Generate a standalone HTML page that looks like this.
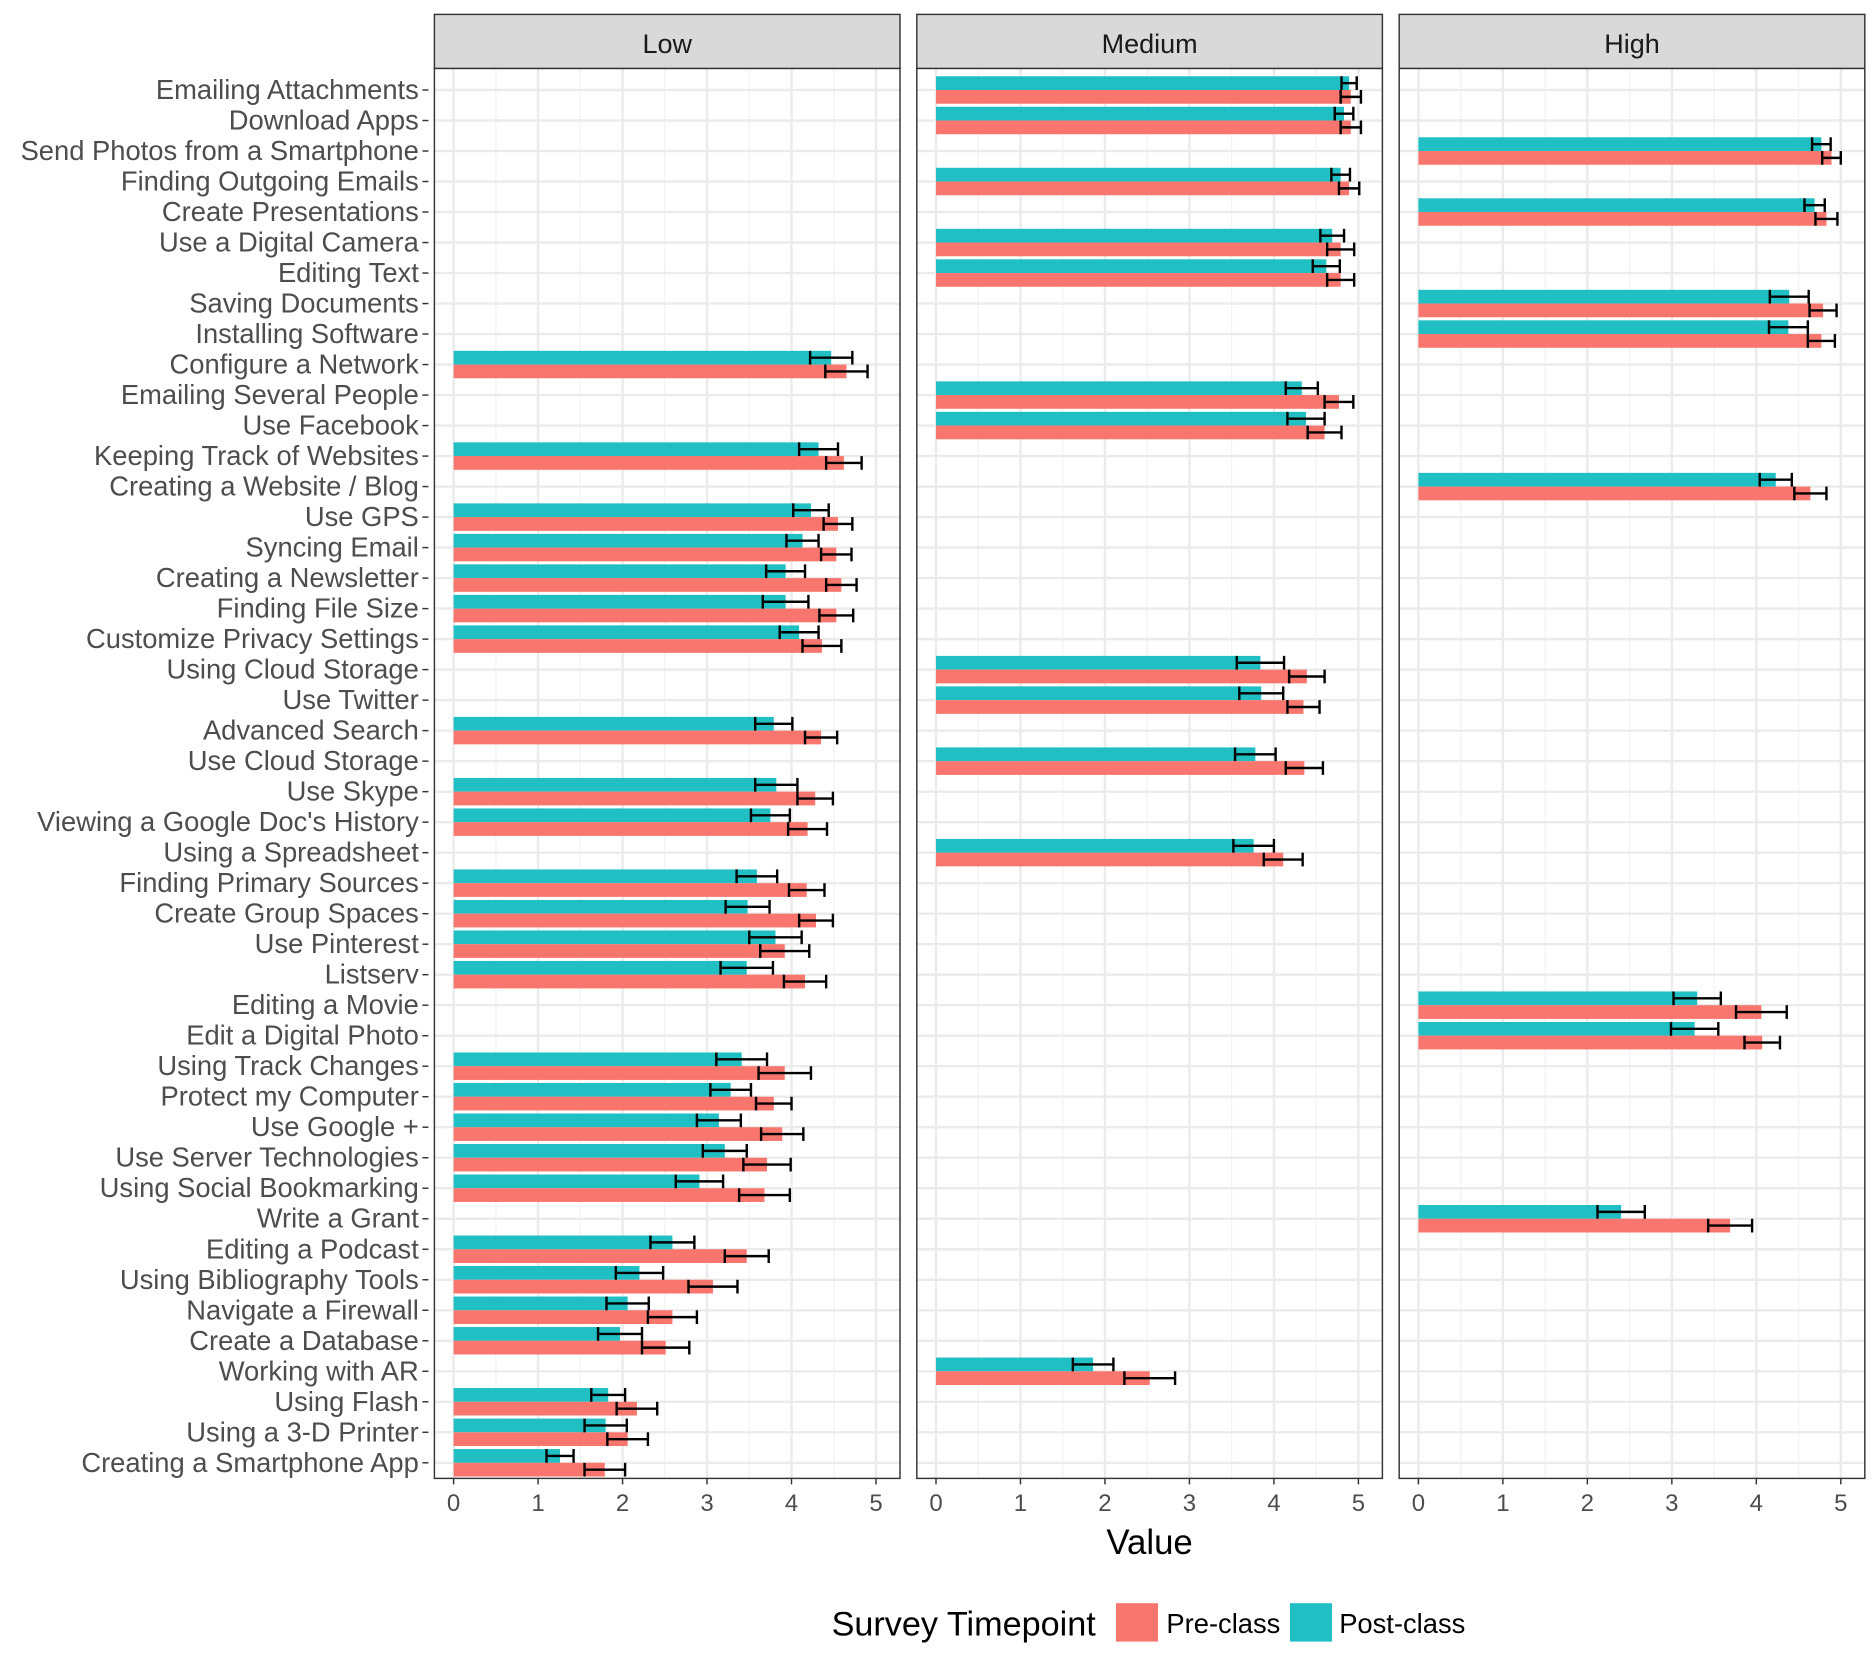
<!DOCTYPE html>
<html><head><meta charset="utf-8"><style>
html,body{margin:0;padding:0;background:#fff;}
svg{display:block;font-family:"Liberation Sans",Arial,sans-serif;}
</style></head><body>
<svg id="chart" width="1876" height="1670" viewBox="0 0 1563.33 1391.67" xmlns="http://www.w3.org/2000/svg"></svg>
<script>
const categories = ["Emailing Attachments","Download Apps","Send Photos from a Smartphone","Finding Outgoing Emails","Create Presentations","Use a Digital Camera","Editing Text","Saving Documents","Installing Software","Configure a Network","Emailing Several People","Use Facebook","Keeping Track of Websites","Creating a Website / Blog","Use GPS","Syncing Email","Creating a Newsletter","Finding File Size","Customize Privacy Settings","Using Cloud Storage","Use Twitter","Advanced Search","Use Cloud Storage","Use Skype","Viewing a Google Doc's History","Using a Spreadsheet","Finding Primary Sources","Create Group Spaces","Use Pinterest","Listserv","Editing a Movie","Edit a Digital Photo","Using Track Changes","Protect my Computer","Use Google +","Use Server Technologies","Using Social Bookmarking","Write a Grant","Editing a Podcast","Using Bibliography Tools","Navigate a Firewall","Create a Database","Working with AR","Using Flash","Using a 3-D Printer","Creating a Smartphone App"];
const panelOf = ["Medium","Medium","High","Medium","High","Medium","Medium","High","High","Low","Medium","Medium","Low","High","Low","Low","Low","Low","Low","Medium","Medium","Low","Medium","Low","Low","Medium","Low","Low","Low","Low","High","High","Low","Low","Low","Low","Low","High","Low","Low","Low","Low","Medium","Low","Low","Low"];
const preValues = [4.91,4.91,4.89,4.89,4.83,4.79,4.79,4.79,4.77,4.65,4.77,4.6,4.62,4.64,4.55,4.53,4.59,4.53,4.36,4.39,4.35,4.35,4.36,4.28,4.19,4.11,4.18,4.29,3.92,4.16,4.06,4.07,3.92,3.79,3.89,3.71,3.68,3.69,3.47,3.07,2.59,2.51,2.53,2.17,2.06,1.79];
const preErr = [0.12,0.12,0.11,0.12,0.13,0.16,0.16,0.16,0.16,0.25,0.17,0.2,0.21,0.19,0.17,0.18,0.18,0.2,0.23,0.21,0.19,0.19,0.22,0.21,0.23,0.23,0.21,0.2,0.29,0.25,0.3,0.21,0.31,0.21,0.25,0.28,0.3,0.26,0.26,0.29,0.29,0.28,0.3,0.24,0.24,0.24];
const postValues = [4.89,4.83,4.77,4.79,4.69,4.69,4.62,4.39,4.38,4.47,4.33,4.38,4.32,4.23,4.23,4.13,3.93,3.93,4.09,3.84,3.85,3.79,3.78,3.82,3.75,3.76,3.59,3.48,3.81,3.47,3.3,3.27,3.41,3.28,3.14,3.21,2.91,2.4,2.59,2.2,2.06,1.97,1.86,1.83,1.8,1.26];
const postErr = [0.09,0.11,0.11,0.11,0.12,0.14,0.16,0.23,0.23,0.25,0.19,0.22,0.23,0.19,0.21,0.19,0.23,0.27,0.23,0.28,0.26,0.22,0.24,0.25,0.23,0.24,0.24,0.26,0.31,0.31,0.28,0.28,0.3,0.24,0.26,0.26,0.28,0.28,0.26,0.28,0.25,0.26,0.24,0.2,0.25,0.16];
const xTicks = ["0","1","2","3","4","5"];
const panels = ["Low","Medium","High"];

const NS = "http://www.w3.org/2000/svg";
const svg = document.getElementById("chart");
function mk(tag, attrs, parent){const e=document.createElementNS(NS,tag);for(const k in attrs)e.setAttribute(k,attrs[k]);(parent||svg).appendChild(e);return e;}
const RED="#F8766D", TEAL="#1FBFC4";
const panelLeft=[362,764,1166], panelW=388, stripTop=12, plotTop=57, plotBot=1232;
const y0=75, rowStep=(1219-75)/(categories.length-1), barH=rowStep*0.45;
function yPos(i){return y0+i*rowStep;}
function xScale(p,v){return panelLeft[p]+16+v*70.4;}

categories.forEach((c,i)=>{
  const t=mk("text",{x:349,y:yPos(i)+7.5,"text-anchor":"end","font-size":22.8,fill:"#4D4D4D"});
  
  
  t.textContent=c;
  const tk=mk("line",{x1:352,x2:357,y1:yPos(i),y2:yPos(i),stroke:"#333",'stroke-width':1.2});
  
  
});

panels.forEach((pn,p)=>{
  const L=panelLeft[p];
  const g=mk("g",{});
  
  
  mk("rect",{x:L,y:plotTop,width:panelW,height:plotBot-plotTop,fill:"#fff"},g);
  for(let v=0.5;v<5.6;v+=1){const x=xScale(p,v);if(x<L+panelW)mk("line",{x1:x,x2:x,y1:plotTop,y2:plotBot,stroke:"#F2F2F2","stroke-width":1},g);}
  xTicks.forEach(t=>{const x=xScale(p,+t);mk("line",{x1:x,x2:x,y1:plotTop,y2:plotBot,stroke:"#EBEBEB","stroke-width":2},g);});
  categories.forEach((c,i)=>mk("line",{x1:L,x2:L+panelW,y1:yPos(i),y2:yPos(i),stroke:"#EBEBEB","stroke-width":2},g));
  categories.forEach((c,i)=>{
    if(panelOf[i]!==pn)return;
    const y=yPos(i), x0=xScale(p,0);
    const b1=mk("rect",{x:x0,y:y-barH,width:xScale(p,postValues[i])-x0,height:barH,fill:TEAL},g);
    
    
    const b2=mk("rect",{x:x0,y:y,width:xScale(p,preValues[i])-x0,height:barH,fill:RED},g);
    
    
    [[postValues[i],postErr[i],y-barH/2],[preValues[i],preErr[i],y+barH/2]].forEach(([v,e,cy])=>{
      const eg=mk("g",{stroke:"#000","stroke-width":2},g);
      
      
      const xa=xScale(p,v-e), xb=xScale(p,v+e);
      mk("line",{x1:xa,x2:xb,y1:cy,y2:cy},eg);
      mk("line",{x1:xa,x2:xa,y1:cy-barH/2,y2:cy+barH/2},eg);
      mk("line",{x1:xb,x2:xb,y1:cy-barH/2,y2:cy+barH/2},eg);
    });
  });
  mk("rect",{x:L,y:plotTop,width:panelW,height:plotBot-plotTop,fill:"none",stroke:"#333","stroke-width":1.2},g);
  const s=mk("rect",{x:L,y:stripTop,width:panelW,height:plotTop-stripTop,fill:"#D9D9D9",stroke:"#333","stroke-width":1.2});
  
  
  const st=mk("text",{x:L+panelW/2,y:44,"text-anchor":"middle","font-size":22.5,fill:"#1A1A1A"});
  
  
  st.textContent=pn;
  xTicks.forEach(t=>{
    const x=xScale(p,+t);
    mk("line",{x1:x,x2:x,y1:plotBot,y2:plotBot+5,stroke:"#333","stroke-width":1.2});
    const tl=mk("text",{x:x,y:plotBot+27,"text-anchor":"middle","font-size":20,fill:"#4D4D4D"});
    
    
    tl.textContent=t;
  });
});
const xt=mk("text",{x:958,y:1295,"text-anchor":"middle","font-size":29,fill:"#000"});


xt.textContent="Value";
const lg=mk("g",{});


const lt=mk("text",{x:693,y:1363,"font-size":28.5,fill:"#000"},lg);
lt.textContent="Survey Timepoint";
mk("rect",{x:930,y:1336,width:35,height:32,fill:RED},lg);
const l1=mk("text",{x:972,y:1361,"font-size":22.8,fill:"#000"},lg);


l1.textContent="Pre-class";
mk("rect",{x:1075,y:1336,width:35,height:32,fill:TEAL},lg);
const l2=mk("text",{x:1116,y:1361,"font-size":22.8,fill:"#000"},lg);


l2.textContent="Post-class";
</script>
</body></html>
